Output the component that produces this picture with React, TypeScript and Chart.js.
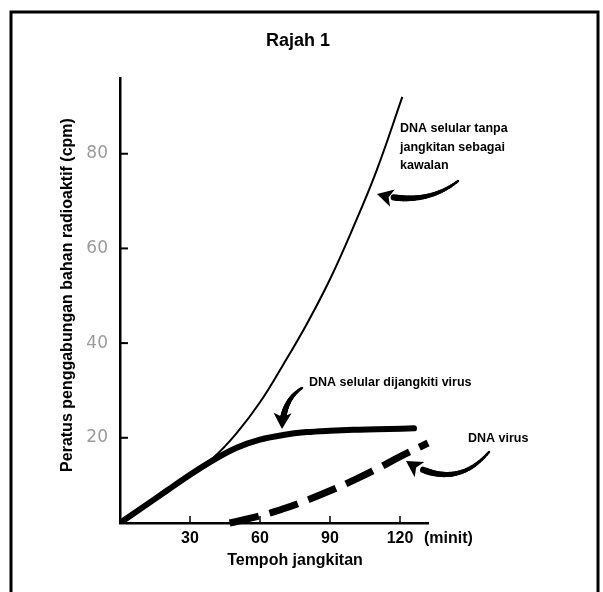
import React, { useEffect, useRef } from "react";
import { Chart, registerables } from "chart.js";

Chart.register(...registerables);

// ---- data ----
const controlMinutes = [0, 10, 20, 30, 40, 50, 60, 70, 80, 90, 100, 110, 121];
const controlValues = [2, 5.4, 8.8, 12.2, 15.8, 21, 27.5, 35.5, 44, 53.5, 64.5, 76.5, 92];

const infectedMinutes = [0, 10, 20, 30, 40, 50, 60, 70, 80, 90, 100, 110, 126];
const infectedValues = [2, 5.4, 8.8, 12.2, 15.3, 17.9, 19.6, 20.6, 21.2, 21.5, 21.7, 21.8, 22];

const virusMinutes = [47, 60, 70, 80, 90, 100, 110, 120, 132];
const virusValues = [2, 3.5, 5.0, 6.8, 8.8, 11.0, 13.4, 16.0, 18.9];

const xTickValues = [30, 60, 90, 120];
const yTickValues = [20, 40, 60, 80];

const chartTitle = "Rajah 1";
const xTitle = "Tempoh jangkitan";
const xUnit = "(minit)";
const yTitle = "Peratus penggabungan bahan radioaktif (cpm)";
const labelControl = ["DNA selular tanpa", "jangkitan sebagai", "kawalan"];
const labelInfected = "DNA selular dijangkiti virus";
const labelVirus = "DNA virus";

const FONT = '"Liberation Sans", Arial, sans-serif';

function drawArrow(
  ctx: CanvasRenderingContext2D,
  tail: [number, number],
  ctrl: [number, number],
  tip: [number, number]
) {
  const n = 24;
  const pt = (t: number) => {
    const a = (1 - t) * (1 - t), b = 2 * (1 - t) * t, c = t * t;
    return [a * tail[0] + b * ctrl[0] + c * tip[0], a * tail[1] + b * ctrl[1] + c * tip[1]];
  };
  ctx.save();
  ctx.strokeStyle = "#000";
  ctx.fillStyle = "#000";
  ctx.lineCap = "round";
  const tEnd = 0.82;
  for (let i = 0; i < n; i++) {
    const t0 = (i / n) * tEnd, t1 = ((i + 1) / n) * tEnd;
    const p0 = pt(t0), p1 = pt(t1);
    ctx.lineWidth = 2.5 + 4 * (i / n);
    ctx.beginPath();
    ctx.moveTo(p0[0], p0[1]);
    ctx.lineTo(p1[0], p1[1]);
    ctx.stroke();
  }
  const dx = tip[0] - ctrl[0], dy = tip[1] - ctrl[1];
  const len = Math.hypot(dx, dy);
  const ux = dx / len, uy = dy / len;
  const hl = 16, hw = 9;
  const bx = tip[0] - ux * hl, by = tip[1] - uy * hl;
  ctx.beginPath();
  ctx.moveTo(tip[0], tip[1]);
  ctx.lineTo(bx - uy * hw, by + ux * hw);
  ctx.lineTo(bx + ux * 4, by + uy * 4);
  ctx.lineTo(bx + uy * hw, by - ux * hw);
  ctx.closePath();
  ctx.fill();
  ctx.restore();
}

const decor = {
  id: "decor",
  beforeDraw(chart: any) {
    const ctx = chart.ctx as CanvasRenderingContext2D;
    ctx.save();
    ctx.fillStyle = "#fff";
    ctx.fillRect(0, 0, chart.width, chart.height);
    ctx.restore();
  },
  beforeDatasetsDraw(chart: any) {
    const ctx = chart.ctx as CanvasRenderingContext2D;
    const xs = chart.scales.x, ys = chart.scales.y;
    const area = chart.chartArea;
    ctx.save();
    ctx.strokeStyle = "#000";
    ctx.lineWidth = 2;
    ys.ticks.forEach((t: any) => {
      const py = ys.getPixelForValue(t.value);
      ctx.beginPath();
      ctx.moveTo(area.left, py);
      ctx.lineTo(area.left + 8, py);
      ctx.stroke();
    });
    ctx.lineWidth = 1.5;
    xs.ticks.forEach((t: any) => {
      const px = xs.getPixelForValue(t.value);
      ctx.beginPath();
      ctx.moveTo(px, area.bottom);
      ctx.lineTo(px, area.bottom - 7);
      ctx.stroke();
    });
    ctx.restore();
  },
  afterDraw(chart: any) {
    const ctx = chart.ctx as CanvasRenderingContext2D;
    ctx.save();
    ctx.strokeStyle = "#000";
    ctx.lineWidth = 3;
    ctx.strokeRect(11, 12, 587, 620);

    ctx.fillStyle = "#000";
    ctx.textBaseline = "middle";

    ctx.font = `bold 18px ${FONT}`;
    ctx.textAlign = "center";
    ctx.fillText(chartTitle, 298, 41);

    ctx.font = `bold 16px ${FONT}`;
    ctx.fillText(xTitle, 295, 561);

    ctx.textAlign = "left";
    ctx.fillText(xUnit, 424, 539);

    ctx.save();
    ctx.translate(67.5, 295);
    ctx.rotate(-Math.PI / 2);
    ctx.textAlign = "center";
    ctx.font = `bold 16px ${FONT}`;
    ctx.fillText(yTitle, 0, 0);
    ctx.restore();

    ctx.font = `bold 12.5px ${FONT}`;
    ctx.textAlign = "left";
    labelControl.forEach((s, i) => ctx.fillText(s, 400, 129 + i * 18.5));
    ctx.fillText(labelInfected, 309, 383);
    ctx.fillText(labelVirus, 468, 439);

    drawArrow(ctx, [458, 181], [425, 207], [377, 194]);
    drawArrow(ctx, [302, 388], [283, 400], [282, 429]);
    drawArrow(ctx, [489, 452], [455, 492], [406, 461]);
    ctx.restore();
  },
};

export default function App() {
  const ref = useRef<HTMLCanvasElement | null>(null);

  useEffect(() => {
    if (!ref.current) return;
    const toPts = (xs: number[], ys: number[]) => xs.map((x, i) => ({ x, y: ys[i] }));
    const chart = new Chart(ref.current, {
      type: "line",
      data: {
        datasets: [
          {
            label: "DNA selular tanpa jangkitan sebagai kawalan",
            data: toPts(controlMinutes, controlValues),
            borderColor: "#000",
            borderWidth: 2,
            pointRadius: 0,
            tension: 0.4,
            fill: false,
          },
          {
            label: "DNA selular dijangkiti virus",
            data: toPts(infectedMinutes, infectedValues),
            borderColor: "#000",
            borderWidth: 6,
            borderCapStyle: "round",
            pointRadius: 0,
            cubicInterpolationMode: "monotone",
            fill: false,
          },
          {
            label: "DNA virus",
            data: toPts(virusMinutes, virusValues),
            borderColor: "#000",
            borderWidth: 7,
            borderDash: [30, 11],
            borderCapStyle: "butt",
            pointRadius: 0,
            tension: 0.4,
            fill: false,
            clip: false,
          } as any,
        ],
      },
      options: {
        animation: false,
        responsive: false,
        devicePixelRatio: 1,
        layout: { padding: { left: 0, top: 78, right: 175, bottom: 0 } },
        plugins: {
          legend: { display: false },
          tooltip: { enabled: false },
          title: { display: false },
        },
        scales: {
          x: {
            type: "linear",
            min: 0,
            max: 132,
            afterFit: (s: any) => {
              s.height = 69;
            },
            afterBuildTicks: (s: any) => {
              s.ticks = xTickValues.map((v) => ({ value: v }));
            },
            grid: { display: true, drawOnChartArea: false, drawTicks: false },
            border: { display: true, color: "#000", width: 2.5 },
            ticks: {
              padding: 6,
              color: "#000",
              font: { family: FONT, size: 16, weight: "bold" },
              callback: (v: any) => String(v),
            },
          },
          y: {
            type: "linear",
            min: 2,
            max: 96,
            afterFit: (s: any) => {
              s.width = 120;
            },
            afterBuildTicks: (s: any) => {
              s.ticks = yTickValues.map((v) => ({ value: v }));
            },
            grid: { display: true, drawOnChartArea: false, drawTicks: false },
            border: { display: true, color: "#000", width: 2.5 },
            ticks: {
              padding: 12,
              color: "#9a9a9a",
              font: { family: '"DejaVu Sans", sans-serif', size: 17 },
              callback: (v: any) => String(v),
            },
          },
        },
      },
      plugins: [decor],
    });
    return () => chart.destroy();
  }, []);

  return (
    <div style={{ position: "absolute", left: 0, top: 0, width: 603, height: 592, overflow: "hidden" }}>
      <canvas ref={ref} width={603} height={592} style={{ display: "block" }} />
    </div>
  );
}
